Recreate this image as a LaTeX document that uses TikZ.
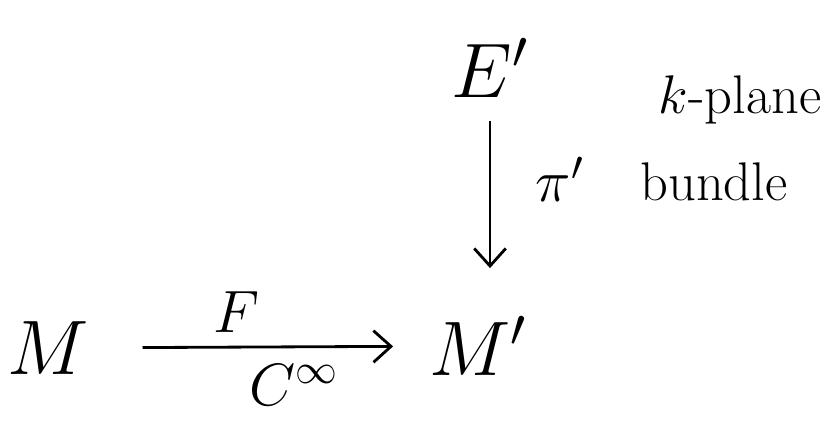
\documentclass[tikz,border=0pt]{standalone}
\usepackage{fix-cm}
\usepackage{tikz}
\usepackage{amsmath}
\usetikzlibrary{arrows, arrows.meta, positioning}
\tikzstyle{obj} = [font=\fontsize{44}{50}\selectfont, inner sep=2pt]
\tikzstyle{lbl} = [font=\fontsize{34}{38}\selectfont]
\tikzstyle{note} = [font=\fontsize{31}{34}\selectfont]
\tikzstyle{arrow} = [line width=1.6pt,-{Straight Barb[length=10pt, width=18pt]}]

\begin{document}
\begin{tikzpicture}[x=0.02cm, y=-0.02cm]
    \useasboundingbox (0,0) rectangle (823,431);
    \node (m) [obj] at (48,348) {$M$};
    \node (mp) [obj] at (478,346) {$M'$};
    \node (ep) [obj] at (490,68) {$E'$};

    \draw[arrow, shorten <=1.0cm, shorten >=0.65cm] (m) -- node[lbl, above=4pt, xshift=-0.45cm] {$F$} node[lbl, below=6pt, xshift=0.7cm] {$C^\infty$} (mp);
    \draw[arrow, shorten <=0.4cm, shorten >=0.9cm] (ep.south) -- node[lbl, right=22pt, yshift=0.55cm] {$\pi'$} (ep.south |- mp.north);

    \node (kp) [note] at (740,100) {$k$-plane};
    \node (bdl) [note] at (714,182) {bundle};
\end{tikzpicture}
\end{document}
